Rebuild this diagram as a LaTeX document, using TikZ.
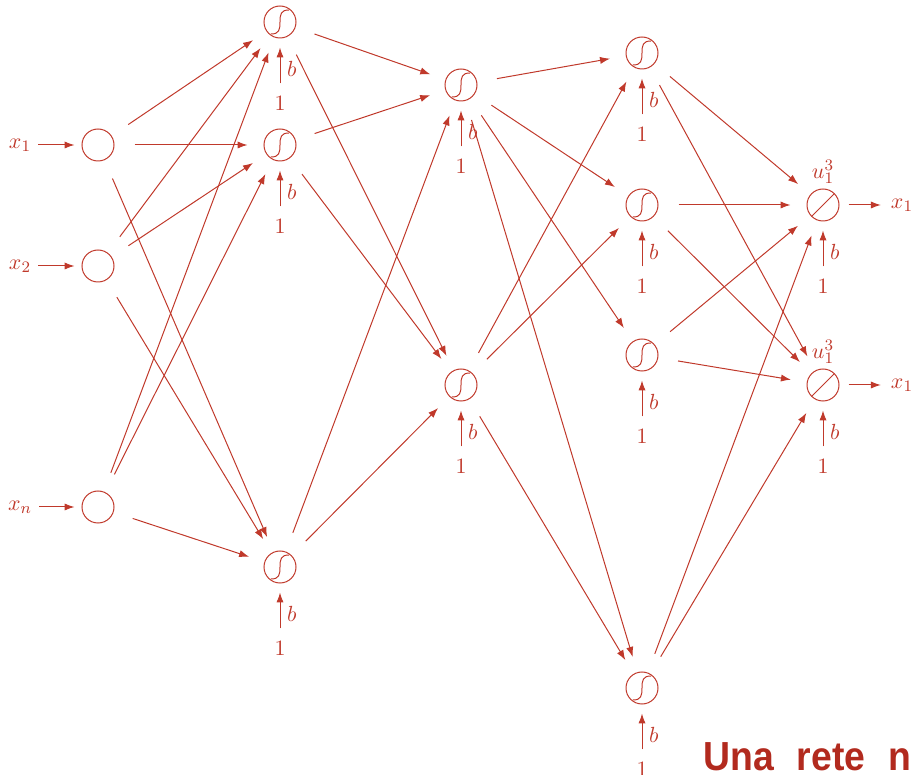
\documentclass[tikz,border=0pt]{standalone}
\usepackage{fontspec}
\newfontfamily\titlefont[WordSpace=2.2]{Liberation Sans}
\usetikzlibrary{positioning,arrows.meta}
\definecolor{netred}{RGB}{192,57,43}
\definecolor{titlered}{RGB}{178,42,30}

\tikzset{
  neuron/.style={draw,circle,minimum size=16pt,inner sep=0pt},
  sig/.style={neuron,path picture={
    \draw ([shift={(-4.5pt,-6pt)}]path picture bounding box.center)
      .. controls +(4pt,0pt) and +(0pt,-4pt) .. (path picture bounding box.center)
      .. controls +(0pt,4pt) and +(-4pt,0pt) .. ([shift={(4.5pt,6pt)}]path picture bounding box.center);}},
  lin/.style={neuron,path picture={
    \draw (path picture bounding box.south west) -- (path picture bounding box.north east);}},
  conn/.style={-{Latex[length=5pt,width=3.6pt]},shorten <=10pt,shorten >=8pt},
  bias/.style={-{Latex[length=5pt,width=3.6pt]},shorten <=2.5pt,shorten >=4.5pt},
  inarr/.style={-{Latex[length=5pt,width=3.6pt]},shorten >=3.5pt},
  outarr/.style={-{Latex[length=5pt,width=3.6pt]},shorten <=4.5pt,shorten >=1.5pt}
}

\begin{document}
\begin{tikzpicture}[x=0.5pt,y=-0.5pt,color=netred,line width=0.5pt,font=\fontsize{10.95}{13}\selectfont]
\useasboundingbox (0,0) rectangle (912,775);
% input layer
\node[neuron](i1) at (98,145){};
\node[neuron](i2) at (98,266){};
\node[neuron](i3) at (98,507){};
\node(x1) at (20,145){$x_1$};
\node(x2) at (20,266){$x_2$};
\node(xn) at (20,507){$x_n$};
\path (x1) edge[inarr] (i1);
\path (x2) edge[inarr] (i2);
\path (xn) edge[inarr] (i3);
% hidden layers
\node[sig](h1) at (280,22){};
\node[sig](h2) at (280,145){};
\node[sig](h3) at (280,567){};
\node[sig](k1) at (461,85){};
\node[sig](k2) at (461,385){};
\node[sig](l1) at (642,53){};
\node[sig](l2) at (642,205){};
\node[sig](l3) at (642,355){};
\node[sig](l4) at (642,688){};
% output layer
\node[lin](o1) at (823,205){};
\node[lin](o2) at (823,385){};
\node(u1) at (823,172){$u^3_1$};
\node(u2) at (823,352){$u^3_1$};
\node(y1) at (902,205){$x_1$};
\node(y2) at (902,385){$x_1$};
\path (o1) edge[outarr] (y1);
\path (o2) edge[outarr] (y2);
% biases
\node[below=25pt of h1](h1one){1};
\node[below=25pt of h2](h2one){1};
\node[below=25pt of h3](h3one){1};
\node[below=25pt of k1](k1one){1};
\node[below=25pt of k2](k2one){1};
\node[below=25pt of l1](l1one){1};
\node[below=25pt of l2](l2one){1};
\node[below=25pt of l3](l3one){1};
\node[below=25pt of l4](l4one){1};
\node[below=25pt of o1](o1one){1};
\node[below=25pt of o2](o2one){1};
\path (h1one) edge[bias] node[right,pos=0.4]{$b$} (h1);
\path (h2one) edge[bias] node[right,pos=0.4]{$b$} (h2);
\path (h3one) edge[bias] node[right,pos=0.4]{$b$} (h3);
\path (k1one) edge[bias] node[right,pos=0.4]{$b$} (k1);
\path (k2one) edge[bias] node[right,pos=0.4]{$b$} (k2);
\path (l1one) edge[bias] node[right,pos=0.4]{$b$} (l1);
\path (l2one) edge[bias] node[right,pos=0.4]{$b$} (l2);
\path (l3one) edge[bias] node[right,pos=0.4]{$b$} (l3);
\path (l4one) edge[bias] node[right,pos=0.4]{$b$} (l4);
\path (o1one) edge[bias] node[right,pos=0.4]{$b$} (o1);
\path (o2one) edge[bias] node[right,pos=0.4]{$b$} (o2);
% connections
\path (i1) edge[conn] (h1);
\path (i1) edge[conn] (h2);
\path (i1) edge[conn] (h3);
\path (i2) edge[conn] (h1);
\path (i2) edge[conn] (h2);
\path (i2) edge[conn] (h3);
\path (i3) edge[conn] (h1);
\path (i3) edge[conn] (h2);
\path (i3) edge[conn] (h3);
\path (h1) edge[conn] (k1);
\path (h1) edge[conn] (k2);
\path (h2) edge[conn] (k1);
\path (h2) edge[conn] (k2);
\path (h3) edge[conn] (k1);
\path (h3) edge[conn] (k2);
\path (k1) edge[conn] (l1);
\path (k1) edge[conn] (l2);
\path (k1) edge[conn] (l3);
\path (k1) edge[conn] (l4);
\path (k2) edge[conn] (l1);
\path (k2) edge[conn] (l2);
\path (k2) edge[conn] (l4);
\path (l1) edge[conn] (o1);
\path (l1) edge[conn] (o2);
\path (l2) edge[conn] (o1);
\path (l2) edge[conn] (o2);
\path (l3) edge[conn] (o1);
\path (l3) edge[conn] (o2);
\path (l4) edge[conn] (o1);
\path (l4) edge[conn] (o2);
% title
\node[anchor=base west,inner sep=0pt,text=titlered](title) at (703,770)
  {\titlefont\bfseries\fontsize{20.3}{24}\selectfont\scalebox{0.92}[1]{Una rete n}};
\end{tikzpicture}
\end{document}
